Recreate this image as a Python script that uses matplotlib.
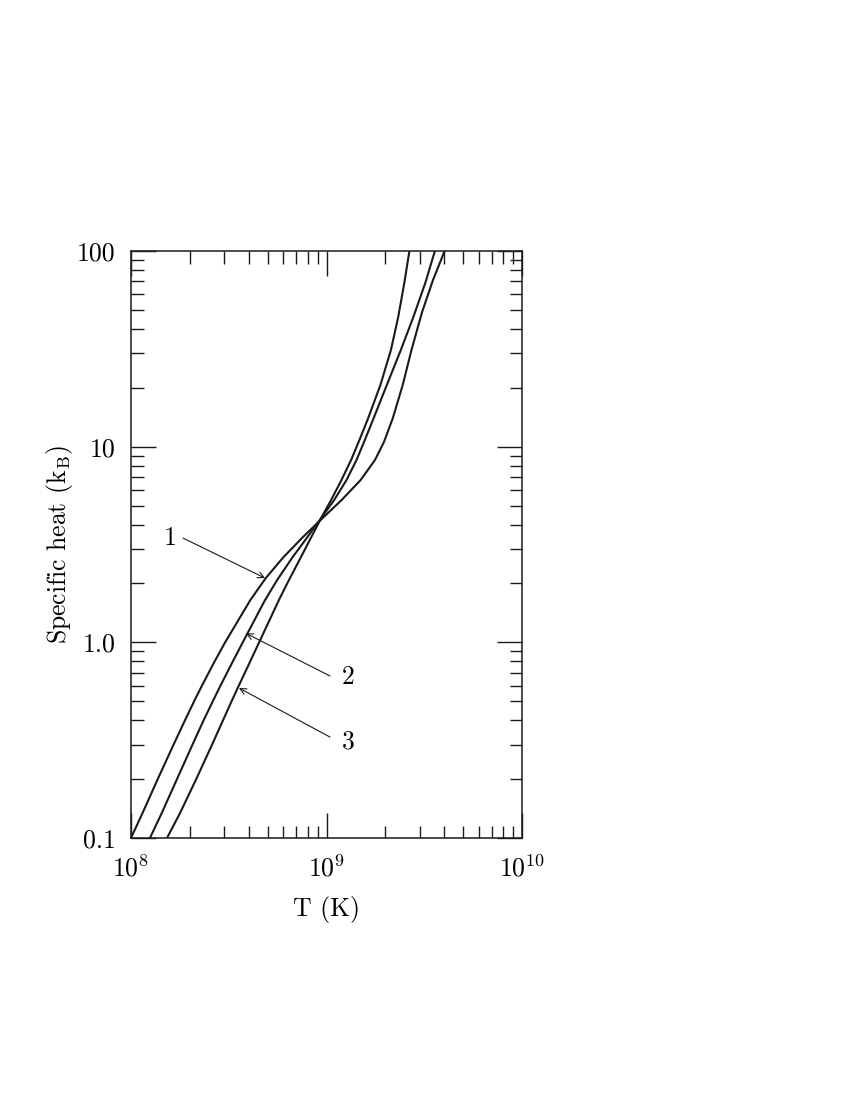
import numpy as np
import matplotlib
matplotlib.use("Agg")
import matplotlib.pyplot as plt
from matplotlib.ticker import NullFormatter

plt.rcParams['font.family'] = ['cmr10', 'DejaVu Serif']
plt.rcParams['mathtext.fontset'] = 'cm'
plt.rcParams['axes.formatter.use_mathtext'] = True

# temperatura (K) y calor especifico (k_B)
t_1 = [1.000e8, 1.145e8, 1.370e8, 1.656e8, 1.892e8, 2.106e8, 2.301e8, 2.667e8,
       3.016e8, 4.080e8, 4.895e8, 6.036e8, 7.582e8, 9.099e8, 1.196e9, 1.495e9,
       1.770e9, 1.968e9, 2.185e9, 2.454e9, 2.721e9, 3.083e9, 3.506e9, 4.018e9]
c_1 = [0.100, 0.134, 0.200, 0.302, 0.401, 0.501, 0.598, 0.793,
       0.992, 1.646, 2.132, 2.731, 3.455, 4.121, 5.340, 6.755,
       8.548, 10.57, 14.01, 20.67, 31.19, 48.78, 71.10, 100.0]

t_2 = [1.250e8, 1.436e8, 1.719e8, 2.069e8, 2.356e8, 2.624e8, 2.862e8, 3.306e8,
       3.714e8, 4.852e8, 5.593e8, 6.718e8, 7.793e8, 9.397e8, 1.095e9, 1.266e9,
       1.424e9, 1.571e9, 1.744e9, 2.035e9, 2.400e9, 2.782e9, 3.201e9, 3.584e9]
c_2 = [0.100, 0.134, 0.200, 0.302, 0.401, 0.501, 0.598, 0.793,
       0.992, 1.646, 2.083, 2.731, 3.336, 4.320, 5.340, 6.755,
       8.548, 10.82, 14.01, 20.67, 31.19, 45.99, 68.63, 100.0]

t_3 = [1.528e8, 1.781e8, 2.156e8, 2.606e8, 2.960e8, 3.273e8, 3.552e8, 4.057e8,
       4.506e8, 5.711e8, 6.313e8, 7.271e8, 8.215e8, 9.576e8, 1.056e9, 1.193e9,
       1.336e9, 1.474e9, 1.635e9, 1.887e9, 2.136e9, 2.327e9, 2.500e9, 2.655e9]
c_3 = [0.100, 0.134, 0.200, 0.302, 0.401, 0.501, 0.598, 0.793,
       0.992, 1.646, 2.011, 2.635, 3.336, 4.476, 5.340, 6.755,
       8.548, 10.82, 14.01, 20.67, 31.19, 45.99, 68.63, 100.0]

etiquetas = ['1', '2', '3']
# posicion de cada numero, cola y punta de la flecha (T, C)
pos_texto = [(1.583e8, 3.41), (1.288e9, 0.665), (1.288e9, 0.310)]
pos_cola = [(1.846e8, 3.41), (1.042e9, 0.673), (1.042e9, 0.328)]
pos_punta = [(4.846e8, 2.13), (3.873e8, 1.112), (3.568e8, 0.584)]

xticks = [1e8, 1e9, 1e10]
xtick_labels = [r'$10^{8}$', r'$10^{9}$', r'$10^{10}$']
yticks = [0.1, 1.0, 10.0, 100.0]
ytick_labels = ['0.1', '1.0', '10', '100']

fig = plt.figure(figsize=(8.5, 11), dpi=100)
ax = fig.add_axes([131 / 850, 1 - 838 / 1100, 391 / 850, 587 / 1100])

for t, c in [(t_1, c_1), (t_2, c_2), (t_3, c_3)]:
    ax.plot(t, c, color='#1a1a1a', lw=1.5, solid_joinstyle='round')

ax.set_xscale('log')
ax.set_yscale('log')
ax.set_xlim(1e8, 1e10)
ax.set_ylim(0.1, 100)
ax.set_xticks(xticks, xtick_labels)
ax.set_yticks(yticks, ytick_labels)
ax.xaxis.set_minor_formatter(NullFormatter())
ax.yaxis.set_minor_formatter(NullFormatter())

ax.tick_params(which='both', direction='in', top=True, right=True,
               width=1.0, color='#1a1a1a', labelsize=18.5)
ax.tick_params(which='major', length=18)
ax.tick_params(which='minor', length=9)
ax.tick_params(axis='x', which='major', pad=12)
ax.tick_params(axis='y', which='major', pad=11)
for s in ax.spines.values():
    s.set_linewidth(1.1)
    s.set_color('#1a1a1a')

ax.set_xlabel('T (K)', fontsize=18.5, labelpad=11)
ax.set_ylabel(r'Specific heat (k$_{\mathrm{B}}$)', fontsize=18.5, labelpad=1.5)

for lab, pt, pc, pp in zip(etiquetas, pos_texto, pos_cola, pos_punta):
    ax.text(pt[0], pt[1], lab, fontsize=18.5, ha='center', va='center')
    ax.annotate('', xy=pp, xytext=pc,
                arrowprops=dict(arrowstyle='->', lw=0.8, color='#1a1a1a',
                                shrinkA=0, shrinkB=0, mutation_scale=11))

fig.savefig('out.png', dpi=100)
